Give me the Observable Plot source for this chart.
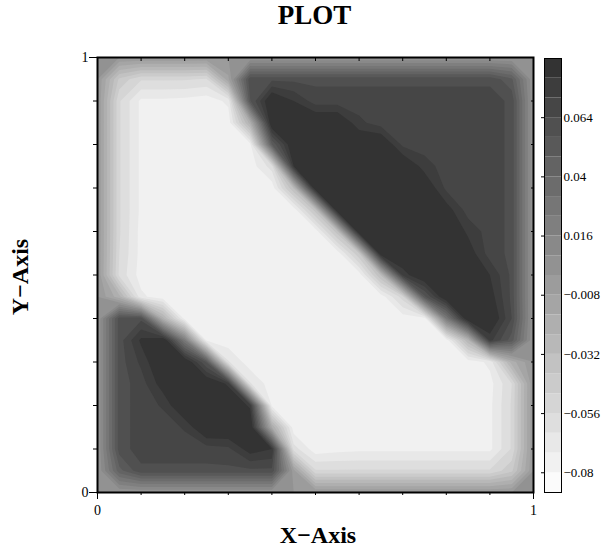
<!DOCTYPE html>
<html>
<head>
<meta charset="utf-8">
<script src="https://cdn.jsdelivr.net/npm/d3@7"></script>
<script src="https://cdn.jsdelivr.net/npm/@observablehq/plot@0.6"></script>
<style>
  body { margin: 0; background: #fff; }
  #wrap { position: relative; width: 603px; height: 550px; font-family: "Liberation Serif", "Times New Roman", serif; color: #000; overflow: hidden; }
  .lbl { position: absolute; font-weight: bold; text-align: center; white-space: nowrap; }
  #title { left: 214.5px; width: 200px; top: 2px; font-size: 27px; line-height: 27px; }
  #xlab { left: 218px; width: 200px; top: 523px; font-size: 24px; line-height: 24px; }
  #ylab { left: -79.8px; width: 200px; top: 264.7px; font-size: 24px; line-height: 24px; transform: rotate(-90deg); }
  #main { position: absolute; left: 0; top: 40px; }
  #bar { position: absolute; left: 530px; top: 40px; }
</style>
</head>
<body>
<div id="wrap">
  <div id="title" class="lbl">PLOT</div>
  <div id="main"></div>
  <div id="bar"></div>
  <div id="xlab" class="lbl">X−Axis</div>
  <div id="ylab" class="lbl">Y−Axis</div>
</div>
<script>
// grid coordinates (columns: x, rows: y from top to bottom)
const xGrid = [0, 0.05, 0.1, 0.15, 0.2, 0.25, 0.3, 0.35, 0.4, 0.45, 0.5, 0.55, 0.6, 0.65, 0.7, 0.75, 0.8, 0.85, 0.9, 0.95, 1];
const yGrid = [1, 0.95, 0.9, 0.85, 0.8, 0.75, 0.7, 0.65, 0.6, 0.55, 0.5, 0.45, 0.4, 0.35, 0.3, 0.25, 0.2, 0.15, 0.1, 0.05, 0];

// field values (one row per yGrid entry)
const field = [
  [0,0,0,0,0,0,0,0,0,0,0,0,0,0,0,0,0,0,0,0,0],
  [0,-0.042,-0.055,-0.055,-0.055,-0.057,-0.010,0.062,0.062,0.062,0.062,0.062,0.062,0.062,0.062,0.062,0.062,0.062,0.062,0.050,0],
  [0,-0.055,-0.074,-0.074,-0.075,-0.077,-0.070,0.055,0.092,0.080,0.068,0.068,0.068,0.068,0.068,0.068,0.068,0.068,0.068,0.062,0],
  [0,-0.055,-0.074,-0.074,-0.075,-0.077,-0.077,-0.020,0.092,0.092,0.092,0.092,0.074,0.068,0.068,0.068,0.068,0.068,0.068,0.062,0],
  [0,-0.055,-0.074,-0.074,-0.075,-0.077,-0.077,-0.075,0.048,0.092,0.092,0.092,0.092,0.092,0.070,0.068,0.068,0.068,0.068,0.062,0],
  [0,-0.055,-0.074,-0.074,-0.075,-0.077,-0.077,-0.077,-0.060,0.080,0.092,0.092,0.092,0.092,0.092,0.076,0.068,0.068,0.068,0.062,0],
  [0,-0.055,-0.074,-0.074,-0.076,-0.077,-0.077,-0.077,-0.077,-0.031,0.092,0.092,0.092,0.092,0.092,0.090,0.070,0.068,0.068,0.062,0],
  [0,-0.055,-0.074,-0.075,-0.077,-0.077,-0.077,-0.077,-0.077,-0.077,-0.035,0.092,0.092,0.092,0.092,0.092,0.085,0.068,0.068,0.062,0],
  [0,-0.055,-0.075,-0.077,-0.077,-0.077,-0.077,-0.077,-0.077,-0.077,-0.077,-0.035,0.092,0.092,0.092,0.092,0.092,0.078,0.068,0.062,0],
  [0,-0.056,-0.075,-0.077,-0.077,-0.077,-0.077,-0.077,-0.077,-0.077,-0.077,-0.077,-0.040,0.092,0.092,0.092,0.092,0.086,0.068,0.062,0],
  [0,-0.058,-0.076,-0.077,-0.077,-0.077,-0.077,-0.077,-0.077,-0.077,-0.077,-0.077,-0.077,-0.031,0.075,0.092,0.092,0.092,0.080,0.062,0],
  [0,-0.021,-0.070,-0.077,-0.077,-0.077,-0.077,-0.077,-0.077,-0.077,-0.077,-0.077,-0.077,-0.077,-0.052,0.054,0.092,0.092,0.085,0.062,0],
  [0,0.060,0.062,-0.021,-0.075,-0.077,-0.077,-0.077,-0.077,-0.077,-0.077,-0.077,-0.077,-0.077,-0.077,-0.077,0.024,0.092,0.092,0.064,0],
  [0,0.060,0.082,0.092,0.024,-0.074,-0.077,-0.077,-0.077,-0.077,-0.077,-0.077,-0.077,-0.077,-0.077,-0.077,-0.077,-0.025,0.075,0.052,0],
  [0,0.060,0.074,0.092,0.092,0.055,-0.063,-0.077,-0.077,-0.077,-0.077,-0.077,-0.077,-0.077,-0.077,-0.077,-0.077,-0.077,-0.070,-0.020,0],
  [0,0.060,0.068,0.085,0.092,0.092,0.078,-0.063,-0.077,-0.077,-0.077,-0.077,-0.077,-0.077,-0.077,-0.077,-0.077,-0.077,-0.075,-0.056,0],
  [0,0.060,0.068,0.073,0.092,0.092,0.092,0.078,-0.074,-0.077,-0.077,-0.077,-0.077,-0.077,-0.077,-0.077,-0.077,-0.075,-0.074,-0.055,0],
  [0,0.060,0.068,0.068,0.073,0.092,0.092,0.092,-0.016,-0.077,-0.077,-0.077,-0.077,-0.075,-0.074,-0.074,-0.074,-0.074,-0.074,-0.055,0],
  [0,0.060,0.068,0.068,0.068,0.068,0.070,0.085,0.080,-0.060,-0.077,-0.075,-0.074,-0.074,-0.074,-0.074,-0.074,-0.074,-0.074,-0.055,0],
  [0,0.045,0.062,0.062,0.062,0.062,0.062,0.062,0.062,-0.005,-0.055,-0.055,-0.055,-0.055,-0.055,-0.055,-0.055,-0.055,-0.055,-0.042,0],
  [0,0,0,0,0,0,0,0,0,0,0,0,0,0,0,0,0,0,0,0,0]
];

// colour bar levels and tick labels
const bandEdges = [-0.088,-0.080,-0.072,-0.064,-0.056,-0.048,-0.040,-0.032,-0.024,-0.016,-0.008,0,0.008,0.016,0.024,0.032,0.040,0.048,0.056,0.064,0.072,0.080,0.088];
const barTicks = [0.064, 0.04, 0.016, -0.008, -0.032, -0.056, -0.08];
const majorTicks = [0, 1];
const minorTicks = [0.1, 0.2, 0.3, 0.4, 0.5, 0.6, 0.7, 0.8, 0.9];

// grid samples sit at cell centres: extent is half a step beyond the first/last sample
const stepX = xGrid[1] - xGrid[0];
const stepY = yGrid[0] - yGrid[1];
const gridValues = field.slice().reverse().flat(); // first row = lowest y
const bands = d3.pairs(bandEdges).map(([lo, hi]) => ({lo, hi, mid: (lo + hi) / 2}));
const grays = d3.quantize(d3.interpolateRgb("#fbfbfb", "#333333"), bands.length);
const color = {type: "threshold", domain: bandEdges.slice(1, -1), range: grays};
const font = '"Liberation Serif", "Times New Roman", serif';
const blank = () => "";
const fmt = d3.format("~g");

const main = Plot.plot({
  width: 545, height: 510,
  marginLeft: 97, marginRight: 12, marginTop: 17, marginBottom: 58,
  style: {fontFamily: font, fontSize: "14px", color: "black", background: "transparent"},
  x: {domain: [0, 1], label: null},
  y: {domain: [0, 1], label: null},
  color,
  marks: [
    Plot.contour(gridValues, {
      width: xGrid.length, height: yGrid.length,
      x1: d3.min(xGrid) - stepX / 2, x2: d3.max(xGrid) + stepX / 2,
      y1: d3.min(yGrid) - stepY / 2, y2: d3.max(yGrid) + stepY / 2,
      thresholds: bandEdges.slice(0, -1),
      fill: Plot.identity, stroke: "none", clip: true
    }),
    Plot.frame({stroke: "black", strokeWidth: 2}),
    Plot.axisX(majorTicks, {anchor: "bottom", tickSize: 7, tickPadding: 6, fontSize: 14, tickFormat: fmt, label: null}),
    Plot.axisX(minorTicks, {anchor: "bottom", tickSize: 3, tickFormat: blank, label: null}),
    Plot.axisX(minorTicks, {anchor: "top", tickSize: -3, tickFormat: blank, label: null}),
    Plot.axisY(majorTicks, {anchor: "left", tickSize: 8, tickPadding: 1, fontSize: 14, tickFormat: fmt, label: null}),
    Plot.axisY(minorTicks, {anchor: "left", tickSize: 4, tickFormat: blank, label: null}),
    Plot.axisY(minorTicks, {anchor: "right", tickSize: -3, tickFormat: blank, label: null})
  ]
});
document.getElementById("main").append(main);

const bar = Plot.plot({
  width: 73, height: 510,
  marginLeft: 14, marginRight: 42, marginTop: 18, marginBottom: 58,
  style: {fontFamily: font, fontSize: "13px", color: "black", background: "transparent"},
  x: {axis: null},
  y: {domain: [bandEdges[0], bandEdges[bandEdges.length - 1]], label: null},
  color,
  marks: [
    Plot.rect(bands, {y1: "lo", y2: "hi", fill: "mid"}),
    Plot.frame({stroke: "black", strokeWidth: 1}),
    Plot.axisY(barTicks, {anchor: "right", tickSize: 0, tickPadding: 2, fontSize: 13, tickFormat: fmt, label: null}),
    Plot.axisY(barTicks, {anchor: "left", tickSize: 3, tickFormat: blank, label: null})
  ]
});
document.getElementById("bar").append(bar);
</script>
</body>
</html>
